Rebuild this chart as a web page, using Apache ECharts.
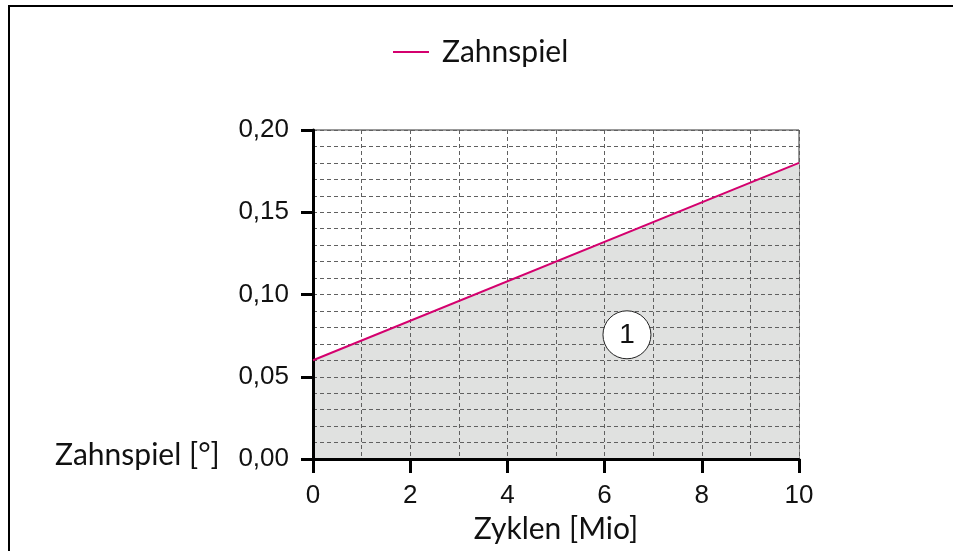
<!DOCTYPE html>
<html>
<head>
<meta charset="utf-8">
<script src="https://cdn.jsdelivr.net/npm/echarts@6/dist/echarts.min.js"></script>
<style>
  html, body { margin: 0; padding: 0; background: #fff; }
  #main { width: 953px; height: 551px; }
</style>
</head>
<body>
<div id="main"></div>
<script>
// Werte aus dem Diagramm
var cycles = [0, 10];          // Zyklen [Mio]
var backlash = [0.06, 0.18];   // Zahnspiel [°]
var markerPos = [6.46, 0.0755];
var markerLabel = '1';

var lineData = cycles.map(function (c, i) { return [c, backlash[i]]; });

var chart = echarts.init(document.getElementById('main'));
var dash = { color: '#606060', type: [4, 3], width: 1 };

var option = {
    animation: false,
    backgroundColor: '#fff',
    grid: { left: 313, top: 130, right: 154, bottom: 92, show: true, borderColor: '#333', borderWidth: 1, backgroundColor: 'transparent' },
    legend: {
        left: 388, top: 32,
        itemWidth: 36, itemHeight: 2, itemGap: 16,
        icon: 'rect',
        textStyle: { fontFamily: 'Lato', fontSize: 30, color: '#111', padding: [0, 0, 0, 8] },
        data: ['Zahnspiel']
    },
    xAxis: {
        type: 'value', min: 0, max: 10, interval: 2, z: 3,
        name: 'Zyklen [Mio]', nameLocation: 'middle', nameGap: 48,
        nameTextStyle: { fontFamily: 'Lato', fontSize: 30, color: '#111' },
        axisLine: { lineStyle: { color: '#000', width: 3 } },
        axisTick: { show: true, length: 14, lineStyle: { color: '#000', width: 3 } },
        axisLabel: { margin: 24, fontFamily: 'Liberation Sans', fontSize: 26, color: '#111' },
        splitLine: { show: true, lineStyle: dash },
        minorTick: { show: false, splitNumber: 2 },
        minorSplitLine: { show: true, lineStyle: dash }
    },
    yAxis: {
        type: 'value', min: 0, max: 0.2, interval: 0.05, z: 3,
        axisLine: { show: true, lineStyle: { color: '#000', width: 3 } },
        axisTick: { show: true, length: 12, lineStyle: { color: '#000', width: 3 } },
        axisLabel: {
            margin: 24, fontFamily: 'Liberation Sans', fontSize: 26, color: '#111',
            formatter: function (v) { return v.toFixed(2).replace('.', ','); }
        },
        splitLine: { show: true, lineStyle: dash },
        minorTick: { show: false, splitNumber: 5 },
        minorSplitLine: { show: true, lineStyle: dash }
    },
    series: [{
        name: 'Fläche',
        type: 'line',
        data: lineData,
        symbol: 'none',
        z: 1,
        silent: true,
        lineStyle: { width: 0, opacity: 0 },
        areaStyle: { color: '#e0e1e0', opacity: 1, origin: 'start' }
    }, {
        name: 'Zahnspiel',
        type: 'line',
        data: lineData,
        symbol: 'none',
        z: 5,
        lineStyle: { color: '#d4006e', width: 2 },
        itemStyle: { color: '#d4006e' },
        markPoint: {
            symbol: 'circle', symbolSize: 48,
            itemStyle: { color: '#fff', borderColor: '#222', borderWidth: 1 },
            label: { show: true, formatter: markerLabel, fontFamily: 'Liberation Sans', fontSize: 28, color: '#111' },
            data: [{ coord: markerPos }]
        }
    }],
    graphic: [
        {
            type: 'polyline',
            shape: { points: [[9, 551], [9, 6], [953, 6]] },
            style: { stroke: '#000', lineWidth: 2, fill: null }
        },
        {
            type: 'text', left: 55, top: 440,
            style: { text: 'Zahnspiel [°]', font: '30px Lato', fill: '#111' }
        }
    ]
};
chart.setOption(option);
</script>
</body>
</html>
